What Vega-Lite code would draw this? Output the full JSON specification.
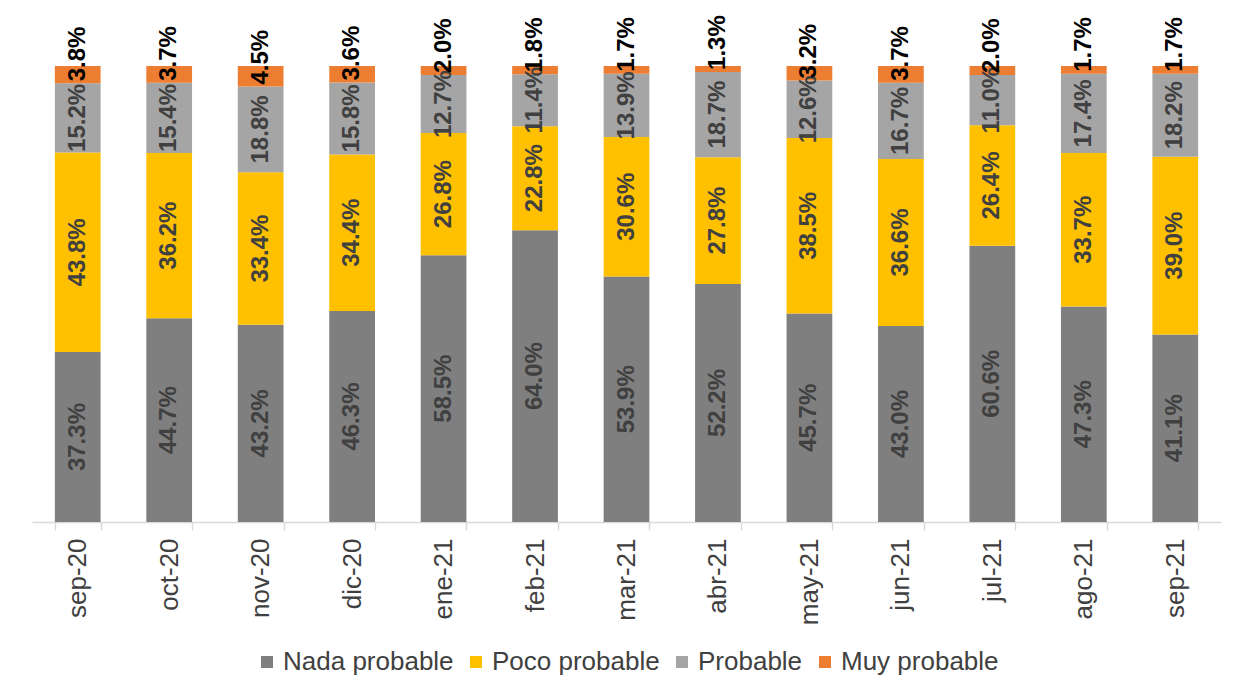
{
  "$schema": "https://vega.github.io/schema/vega-lite/v6.json",
  "width": 1189,
  "height": 456,
  "autosize": "none",
  "padding": {"left": 32, "top": 66, "right": 31, "bottom": 176},
  "background": "white",
  "config": {
    "font": "Liberation Sans",
    "view": {"stroke": null},
    "legend": {"layout": {"bottom": {"anchor": "middle"}}}
  },
  "data": {
    "values": [
      {"m": "sep-20", "c": "Nada probable", "k": 1, "v": 0.373},
      {"m": "sep-20", "c": "Poco probable", "k": 2, "v": 0.438},
      {"m": "sep-20", "c": "Probable", "k": 3, "v": 0.152},
      {"m": "sep-20", "c": "Muy probable", "k": 4, "v": 0.038},
      {"m": "oct-20", "c": "Nada probable", "k": 1, "v": 0.447},
      {"m": "oct-20", "c": "Poco probable", "k": 2, "v": 0.362},
      {"m": "oct-20", "c": "Probable", "k": 3, "v": 0.154},
      {"m": "oct-20", "c": "Muy probable", "k": 4, "v": 0.037},
      {"m": "nov-20", "c": "Nada probable", "k": 1, "v": 0.432},
      {"m": "nov-20", "c": "Poco probable", "k": 2, "v": 0.334},
      {"m": "nov-20", "c": "Probable", "k": 3, "v": 0.188},
      {"m": "nov-20", "c": "Muy probable", "k": 4, "v": 0.045},
      {"m": "dic-20", "c": "Nada probable", "k": 1, "v": 0.463},
      {"m": "dic-20", "c": "Poco probable", "k": 2, "v": 0.344},
      {"m": "dic-20", "c": "Probable", "k": 3, "v": 0.158},
      {"m": "dic-20", "c": "Muy probable", "k": 4, "v": 0.036},
      {"m": "ene-21", "c": "Nada probable", "k": 1, "v": 0.585},
      {"m": "ene-21", "c": "Poco probable", "k": 2, "v": 0.268},
      {"m": "ene-21", "c": "Probable", "k": 3, "v": 0.127},
      {"m": "ene-21", "c": "Muy probable", "k": 4, "v": 0.020},
      {"m": "feb-21", "c": "Nada probable", "k": 1, "v": 0.640},
      {"m": "feb-21", "c": "Poco probable", "k": 2, "v": 0.228},
      {"m": "feb-21", "c": "Probable", "k": 3, "v": 0.114},
      {"m": "feb-21", "c": "Muy probable", "k": 4, "v": 0.018},
      {"m": "mar-21", "c": "Nada probable", "k": 1, "v": 0.539},
      {"m": "mar-21", "c": "Poco probable", "k": 2, "v": 0.306},
      {"m": "mar-21", "c": "Probable", "k": 3, "v": 0.139},
      {"m": "mar-21", "c": "Muy probable", "k": 4, "v": 0.017},
      {"m": "abr-21", "c": "Nada probable", "k": 1, "v": 0.522},
      {"m": "abr-21", "c": "Poco probable", "k": 2, "v": 0.278},
      {"m": "abr-21", "c": "Probable", "k": 3, "v": 0.187},
      {"m": "abr-21", "c": "Muy probable", "k": 4, "v": 0.013},
      {"m": "may-21", "c": "Nada probable", "k": 1, "v": 0.457},
      {"m": "may-21", "c": "Poco probable", "k": 2, "v": 0.385},
      {"m": "may-21", "c": "Probable", "k": 3, "v": 0.126},
      {"m": "may-21", "c": "Muy probable", "k": 4, "v": 0.032},
      {"m": "jun-21", "c": "Nada probable", "k": 1, "v": 0.430},
      {"m": "jun-21", "c": "Poco probable", "k": 2, "v": 0.366},
      {"m": "jun-21", "c": "Probable", "k": 3, "v": 0.167},
      {"m": "jun-21", "c": "Muy probable", "k": 4, "v": 0.037},
      {"m": "jul-21", "c": "Nada probable", "k": 1, "v": 0.606},
      {"m": "jul-21", "c": "Poco probable", "k": 2, "v": 0.264},
      {"m": "jul-21", "c": "Probable", "k": 3, "v": 0.110},
      {"m": "jul-21", "c": "Muy probable", "k": 4, "v": 0.020},
      {"m": "ago-21", "c": "Nada probable", "k": 1, "v": 0.473},
      {"m": "ago-21", "c": "Poco probable", "k": 2, "v": 0.337},
      {"m": "ago-21", "c": "Probable", "k": 3, "v": 0.174},
      {"m": "ago-21", "c": "Muy probable", "k": 4, "v": 0.017},
      {"m": "sep-21", "c": "Nada probable", "k": 1, "v": 0.411},
      {"m": "sep-21", "c": "Poco probable", "k": 2, "v": 0.390},
      {"m": "sep-21", "c": "Probable", "k": 3, "v": 0.182},
      {"m": "sep-21", "c": "Muy probable", "k": 4, "v": 0.017}
    ]
  },
  "encoding": {
    "x": {
      "field": "m",
      "type": "nominal",
      "sort": null,
      "scale": {"paddingInner": 0.5, "paddingOuter": 0.25},
      "axis": {
        "title": null,
        "labelAngle": -90,
        "labelFontSize": 26,
        "labelColor": "#404040",
        "labelPadding": 8,
        "domainColor": "#D9D9D9",
        "domainWidth": 1.5,
        "tickColor": "#D9D9D9",
        "tickWidth": 1.5,
        "tickSize": 8,
        "tickBand": "extent"
      }
    },
    "order": {"field": "k", "type": "quantitative"}
  },
  "layer": [
    {
      "mark": {"type": "bar"},
      "encoding": {
        "y": {"field": "v", "type": "quantitative", "stack": "normalize", "axis": null, "scale": {"domain": [0, 1], "nice": false}},
        "color": {
          "field": "c",
          "type": "nominal",
          "scale": {
            "domain": ["Nada probable", "Poco probable", "Probable", "Muy probable"],
            "range": ["#7F7F7F", "#FFC000", "#A5A5A5", "#ED7D31"]
          },
          "legend": {
            "orient": "bottom",
            "direction": "horizontal",
            "title": null,
            "symbolType": "square",
            "symbolSize": 144,
            "symbolStrokeWidth": 0,
            "labelFontSize": 26,
            "labelColor": "#404040",
            "labelLimit": 400,
            "labelOffset": 3,
            "columnPadding": 9,
            "offset": 24
          }
        }
      }
    },
    {
      "mark": {"type": "text", "angle": 270, "fontSize": 24, "fontWeight": "bold", "color": "#404040", "align": "center", "baseline": "middle"},
      "encoding": {
        "y": {"field": "v", "type": "quantitative", "stack": "normalize", "bandPosition": 0.5},
        "detail": {"field": "c"},
        "text": {"field": "v", "type": "quantitative", "format": ".1%"},
        "opacity": {"condition": {"test": "datum.k === 4", "value": 0}, "value": 1}
      }
    },
    {
      "mark": {"type": "text", "angle": 270, "fontSize": 24, "fontWeight": "bold", "color": "#000000", "align": "left", "baseline": "middle", "dx": 2},
      "encoding": {
        "y": {"field": "v", "type": "quantitative", "stack": "normalize", "bandPosition": 0},
        "detail": {"field": "c"},
        "text": {"field": "v", "type": "quantitative", "format": ".1%"},
        "opacity": {"condition": {"test": "datum.k === 4", "value": 1}, "value": 0}
      }
    }
  ]
}
